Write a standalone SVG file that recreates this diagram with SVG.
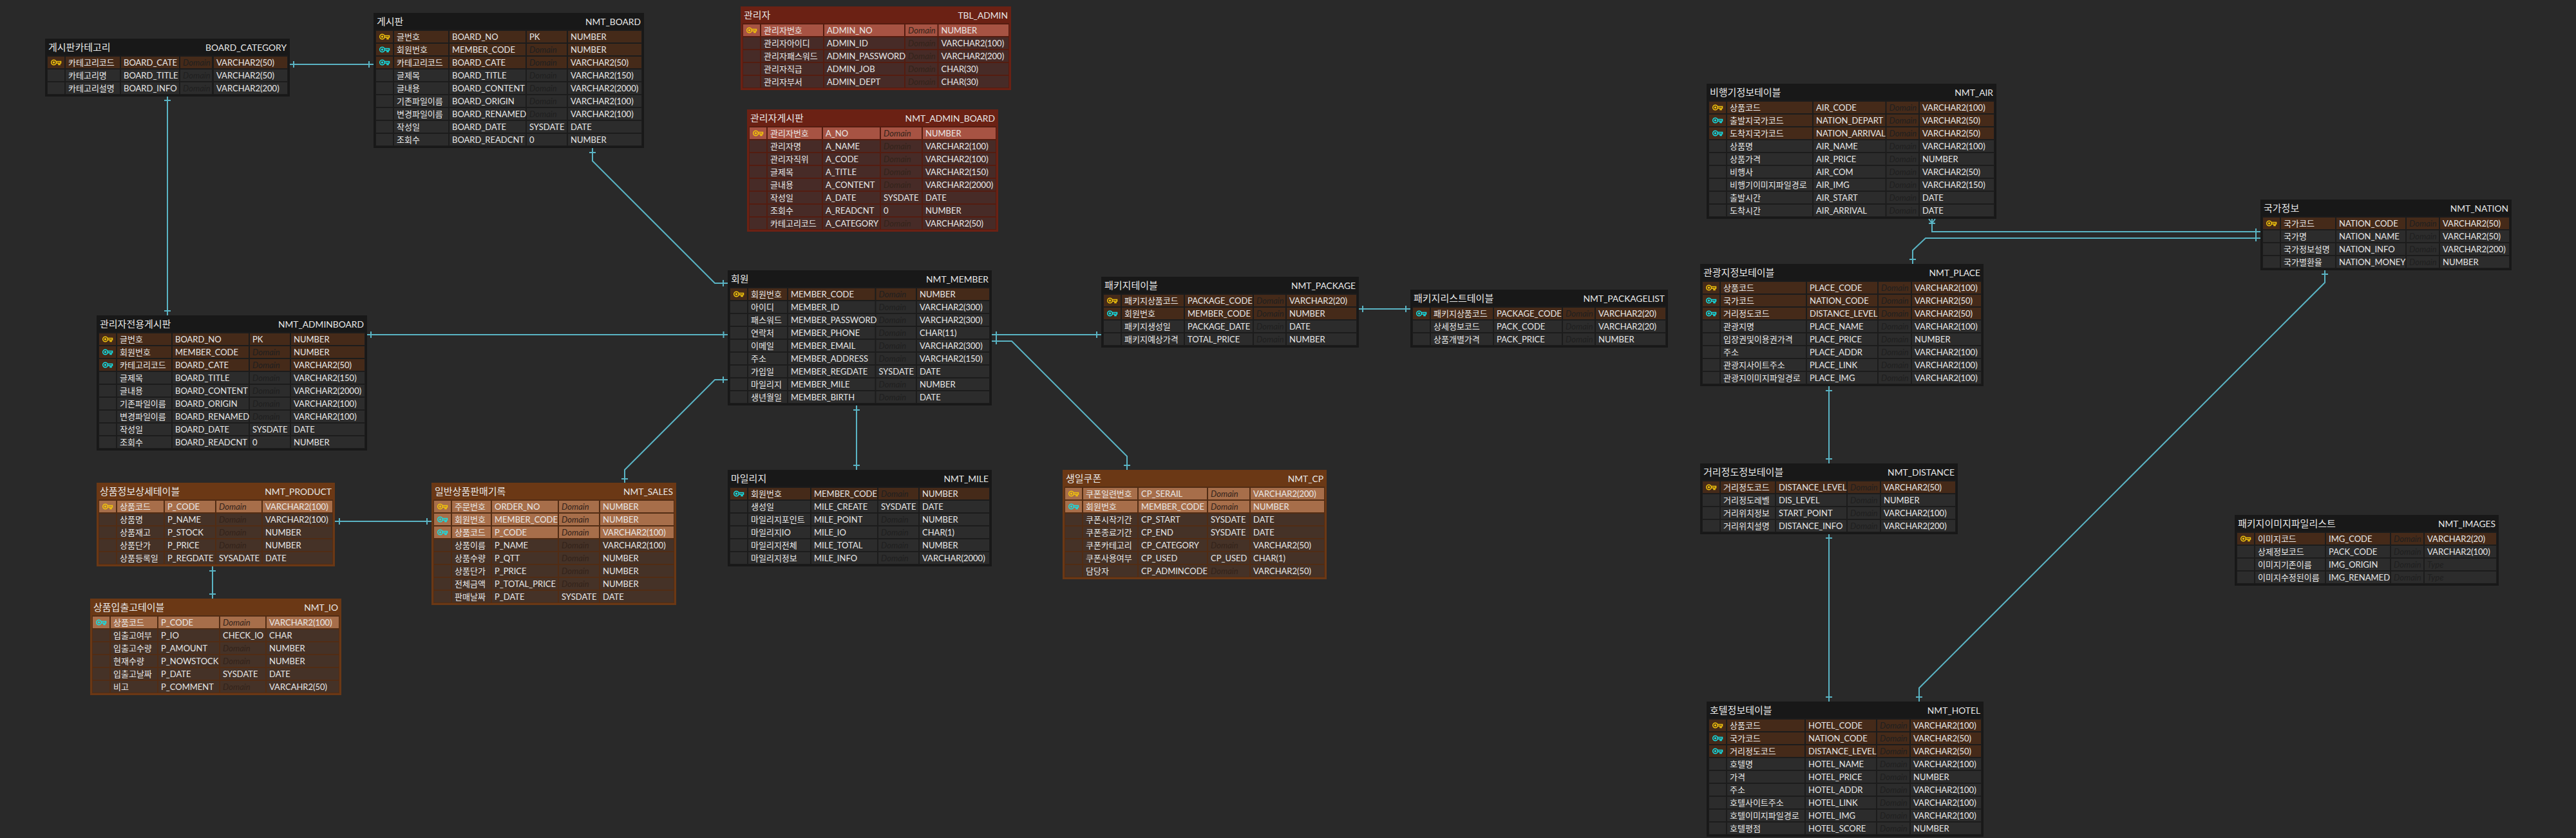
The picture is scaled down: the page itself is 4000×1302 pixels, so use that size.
<svg xmlns="http://www.w3.org/2000/svg" width="4000" height="1302" viewBox="0 0 4000 1302">
<style>
text{font-family:Lato,"Noto Sans CJK KR",sans-serif;font-size:13px;fill:#e8e8e8}
.h{font-size:15px}
.e{text-anchor:end;font-size:13.800px}
.d{font-style:italic;fill:#1f1f1f}
.blk .bg{fill:#181818}.blk .band{fill:#1c1c1c}.blk .pl{fill:#2c2c2c}.blk .ky{fill:#452a19}
.brn .bg{fill:#6b3815}.brn .band{fill:#512c14}.brn .pl{fill:#453227}.brn .ky{fill:#a76e4a}
.red .bg{fill:#6b2114}.red .band{fill:#541c10}.red .pl{fill:#472b27}.red .ky{fill:#a75343}
.red .d,.brn .d{fill:#33231a}
.gk{color:#f2c40c}.ck{color:#14e0e6}
.key{fill:none;stroke:currentColor;stroke-width:1.5}
.conn path{fill:none;stroke:#5ab4c4;stroke-width:2}
</style>
<defs>
<g id="key" class="key"><circle cx="4.5" cy="5" r="3.8"/><circle cx="4.5" cy="5" r="1"/><path d="M8.3 3.5H15.5V6H14V8.5H12V6H8.3"/></g>
<g id="c-cat"><rect x="4" width="26" height="18"/><rect x="32" width="84" height="18"/><rect x="118" width="90" height="18"/><rect x="210" width="49" height="18"/><rect x="262" width="114" height="18"/></g>
<g id="c-board"><rect x="4" width="26" height="18"/><rect x="32" width="84" height="18"/><rect x="118" width="118" height="18"/><rect x="238" width="62" height="18"/><rect x="302" width="114" height="18"/></g>
<g id="c-admin"><rect x="4" width="26" height="18"/><rect x="32" width="96" height="18"/><rect x="130" width="124" height="18"/><rect x="256" width="49.500" height="18"/><rect x="307.500" width="108.500" height="18"/></g>
<g id="c-aboard"><rect x="4" width="26" height="18"/><rect x="32" width="84" height="18"/><rect x="118" width="88" height="18"/><rect x="208" width="63" height="18"/><rect x="273" width="113" height="18"/></g>
<g id="c-member"><rect x="4" width="26" height="18"/><rect x="32" width="60" height="18"/><rect x="94" width="134.500" height="18"/><rect x="230.500" width="61.500" height="18"/><rect x="294" width="112" height="18"/></g>
<g id="c-pack"><rect x="4" width="26" height="18"/><rect x="32" width="96" height="18"/><rect x="130" width="105" height="18"/><rect x="237" width="49" height="18"/><rect x="288" width="108" height="18"/></g>
<g id="c-prod"><rect x="4" width="26" height="18"/><rect x="32" width="72" height="18"/><rect x="106" width="78" height="18"/><rect x="186" width="70" height="18"/><rect x="258" width="108" height="18"/></g>
<g id="c-sales"><rect x="4" width="26" height="18"/><rect x="32" width="60" height="18"/><rect x="94" width="102" height="18"/><rect x="198" width="62" height="18"/><rect x="262" width="114" height="18"/></g>
<g id="c-io"><rect x="4" width="26" height="18"/><rect x="32" width="72" height="18"/><rect x="106" width="94" height="18"/><rect x="202" width="70" height="18"/><rect x="274" width="112" height="18"/></g>
<g id="c-mile"><rect x="4" width="26" height="18"/><rect x="32" width="96" height="18"/><rect x="130" width="102" height="18"/><rect x="234" width="62" height="18"/><rect x="298" width="108" height="18"/></g>
<g id="c-cp"><rect x="4" width="26" height="18"/><rect x="32" width="84" height="18"/><rect x="118" width="106" height="18"/><rect x="226" width="64" height="18"/><rect x="292" width="114" height="18"/></g>
<g id="c-air"><rect x="4" width="26" height="18"/><rect x="32" width="132" height="18"/><rect x="166" width="111.500" height="18"/><rect x="279.500" width="49.500" height="18"/><rect x="331" width="115" height="18"/></g>
<g id="c-place"><rect x="4" width="26" height="18"/><rect x="32" width="132" height="18"/><rect x="166" width="109" height="18"/><rect x="277" width="50" height="18"/><rect x="329" width="107" height="18"/></g>
<g id="c-dist"><rect x="4" width="26" height="18"/><rect x="32" width="84" height="18"/><rect x="118" width="109" height="18"/><rect x="229" width="50" height="18"/><rect x="281" width="115" height="18"/></g>
<g id="c-hotel"><rect x="4" width="26" height="18"/><rect x="32" width="120" height="18"/><rect x="154" width="109" height="18"/><rect x="265" width="50" height="18"/><rect x="317" width="109" height="18"/></g>
<g id="c-nation"><rect x="4" width="26" height="18"/><rect x="32" width="84" height="18"/><rect x="118" width="107" height="18"/><rect x="227" width="50" height="18"/><rect x="279" width="107" height="18"/></g>
<g id="c-img"><rect x="4" width="26" height="18"/><rect x="32" width="108" height="18"/><rect x="142" width="99" height="18"/><rect x="243" width="50" height="18"/><rect x="295" width="111" height="18"/></g>
</defs>
<rect width="4000" height="1302" fill="#292929"/>

<g id="connectors" class="conn">
<path d="M450 100H580M456 95v10M573 95v10"/>
<path d="M260 150V490M255 156h10M255 483h10"/>
<path d="M920 230V250L1110 440H1130M915 237h10M1123 435v10"/>
<path d="M570 520H1130M576 515v10M1123.500 515v10"/>
<path d="M970 750V730L1110 590H1130M965 744h10M1123 585v10"/>
<path d="M1330 630V730M1325 637h10M1325 723h10"/>
<path d="M1540 520H1710M1547 515v10M1703 515v10"/>
<path d="M1540 530H1571L1750 709V730M1547 525v10M1745 723h10"/>
<path d="M2110 480H2190M2116 475v10M2183 475v10"/>
<path d="M520 810H670M527 805v10M663 805v10"/>
<path d="M330 880V930M325 887h10M325 923h10"/>
<path d="M2840 600V720M2835 607h10M2835 713h10"/>
<path d="M2840 830V1090M2835 836h10M2835 1083h10"/>
<path d="M3510 360H3000V340M3503 355v10M2995 347h10M3000 347L2995 340M3000 347L3005 340"/>
<path d="M3510 370H2990L2970 389V410M3503 365v10M2965 403h10"/>
<path d="M3610 420V439L2980 1069V1090M3605 426h10M2975 1083h10"/>
</g>

<g id="board_category" class="blk" transform="translate(70,60)">
<rect class="bg" width="380" height="90"/><rect class="band" x="3" y="26" width="374" height="61"/>
<text class="h" x="5" y="18.500">게시판카테고리</text><text class="h e" x="375" y="18.500">BOARD_CATEGORY</text>
<use href="#c-cat" y="28" class="ky"/><use href="#c-cat" y="48" class="pl"/><use href="#c-cat" y="68" class="pl"/>
<use href="#key" x="9" y="32" class="gk"/>
<text x="36" y="41.700">카테고리코드</text><text x="122" y="41.700">BOARD_CATE</text><text class="d" x="214" y="41.700">Domain</text><text x="266" y="41.700">VARCHAR2(50)</text>
<text x="36" y="61.700">카테고리명</text><text x="122" y="61.700">BOARD_TITLE</text><text class="d" x="214" y="61.700">Domain</text><text x="266" y="61.700">VARCHAR2(50)</text>
<text x="36" y="81.700">카테고리설명</text><text x="122" y="81.700">BOARD_INFO</text><text class="d" x="214" y="81.700">Domain</text><text x="266" y="81.700">VARCHAR2(200)</text>
</g>

<g id="nmt_board" class="blk" transform="translate(580,20)">
<rect class="bg" width="420" height="210"/><rect class="band" x="3" y="26" width="414" height="181"/>
<text class="h" x="5" y="18.500">게시판</text><text class="h e" x="415" y="18.500">NMT_BOARD</text>
<use href="#c-board" y="28" class="ky"/><use href="#c-board" y="48" class="ky"/><use href="#c-board" y="68" class="ky"/><use href="#c-board" y="88" class="pl"/><use href="#c-board" y="108" class="pl"/><use href="#c-board" y="128" class="pl"/><use href="#c-board" y="148" class="pl"/><use href="#c-board" y="168" class="pl"/><use href="#c-board" y="188" class="pl"/>
<use href="#key" x="9" y="32" class="gk"/><use href="#key" x="9" y="52" class="ck"/><use href="#key" x="9" y="72" class="ck"/>
<text x="36" y="41.700">글번호</text><text x="122" y="41.700">BOARD_NO</text><text x="242" y="41.700">PK</text><text x="306" y="41.700">NUMBER</text>
<text x="36" y="61.700">회원번호</text><text x="122" y="61.700">MEMBER_CODE</text><text class="d" x="242" y="61.700">Domain</text><text x="306" y="61.700">NUMBER</text>
<text x="36" y="81.700">카테고리코드</text><text x="122" y="81.700">BOARD_CATE</text><text class="d" x="242" y="81.700">Domain</text><text x="306" y="81.700">VARCHAR2(50)</text>
<text x="36" y="101.700">글제목</text><text x="122" y="101.700">BOARD_TITLE</text><text class="d" x="242" y="101.700">Domain</text><text x="306" y="101.700">VARCHAR2(150)</text>
<text x="36" y="121.700">글내용</text><text x="122" y="121.700">BOARD_CONTENT</text><text class="d" x="242" y="121.700">Domain</text><text x="306" y="121.700">VARCHAR2(2000)</text>
<text x="36" y="141.700">기존파일이름</text><text x="122" y="141.700">BOARD_ORIGIN</text><text class="d" x="242" y="141.700">Domain</text><text x="306" y="141.700">VARCHAR2(100)</text>
<text x="36" y="161.700">변경파일이름</text><text x="122" y="161.700">BOARD_RENAMED</text><text class="d" x="242" y="161.700">Domain</text><text x="306" y="161.700">VARCHAR2(100)</text>
<text x="36" y="181.700">작성일</text><text x="122" y="181.700">BOARD_DATE</text><text x="242" y="181.700">SYSDATE</text><text x="306" y="181.700">DATE</text>
<text x="36" y="201.700">조회수</text><text x="122" y="201.700">BOARD_READCNT</text><text x="242" y="201.700">0</text><text x="306" y="201.700">NUMBER</text>
</g>

<g id="tbl_admin" class="red" transform="translate(1150,10)">
<rect class="bg" width="420" height="130"/><rect class="band" x="3" y="26" width="414" height="101"/>
<text class="h" x="5" y="18.500">관리자</text><text class="h e" x="415" y="18.500">TBL_ADMIN</text>
<use href="#c-admin" y="28" class="ky"/><use href="#c-admin" y="48" class="pl"/><use href="#c-admin" y="68" class="pl"/><use href="#c-admin" y="88" class="pl"/><use href="#c-admin" y="108" class="pl"/>
<use href="#key" x="9" y="32" class="gk"/>
<text x="36" y="41.700">관리자번호</text><text x="134" y="41.700">ADMIN_NO</text><text class="d" x="260" y="41.700">Domain</text><text x="311.500" y="41.700">NUMBER</text>
<text x="36" y="61.700">관리자아이디</text><text x="134" y="61.700">ADMIN_ID</text><text class="d" x="260" y="61.700">Domain</text><text x="311.500" y="61.700">VARCHAR2(100)</text>
<text x="36" y="81.700">관리자패스워드</text><text x="134" y="81.700">ADMIN_PASSWORD</text><text class="d" x="260" y="81.700">Domain</text><text x="311.500" y="81.700">VARCHAR2(200)</text>
<text x="36" y="101.700">관리자직급</text><text x="134" y="101.700">ADMIN_JOB</text><text class="d" x="260" y="101.700">Domain</text><text x="311.500" y="101.700">CHAR(30)</text>
<text x="36" y="121.700">관리자부서</text><text x="134" y="121.700">ADMIN_DEPT</text><text class="d" x="260" y="121.700">Domain</text><text x="311.500" y="121.700">CHAR(30)</text>
</g>

<g id="nmt_admin_board" class="red" transform="translate(1160,170)">
<rect class="bg" width="390" height="190"/><rect class="band" x="3" y="26" width="384" height="161"/>
<text class="h" x="5" y="18.500">관리자게시판</text><text class="h e" x="385" y="18.500">NMT_ADMIN_BOARD</text>
<use href="#c-aboard" y="28" class="ky"/><use href="#c-aboard" y="48" class="pl"/><use href="#c-aboard" y="68" class="pl"/><use href="#c-aboard" y="88" class="pl"/><use href="#c-aboard" y="108" class="pl"/><use href="#c-aboard" y="128" class="pl"/><use href="#c-aboard" y="148" class="pl"/><use href="#c-aboard" y="168" class="pl"/>
<use href="#key" x="9" y="32" class="gk"/>
<text x="36" y="41.700">관리자번호</text><text x="122" y="41.700">A_NO</text><text class="d" x="212" y="41.700">Domain</text><text x="277" y="41.700">NUMBER</text>
<text x="36" y="61.700">관리자명</text><text x="122" y="61.700">A_NAME</text><text class="d" x="212" y="61.700">Domain</text><text x="277" y="61.700">VARCHAR2(100)</text>
<text x="36" y="81.700">관리자직위</text><text x="122" y="81.700">A_CODE</text><text class="d" x="212" y="81.700">Domain</text><text x="277" y="81.700">VARCHAR2(100)</text>
<text x="36" y="101.700">글제목</text><text x="122" y="101.700">A_TITLE</text><text class="d" x="212" y="101.700">Domain</text><text x="277" y="101.700">VARCHAR2(150)</text>
<text x="36" y="121.700">글내용</text><text x="122" y="121.700">A_CONTENT</text><text class="d" x="212" y="121.700">Domain</text><text x="277" y="121.700">VARCHAR2(2000)</text>
<text x="36" y="141.700">작성일</text><text x="122" y="141.700">A_DATE</text><text x="212" y="141.700">SYSDATE</text><text x="277" y="141.700">DATE</text>
<text x="36" y="161.700">조회수</text><text x="122" y="161.700">A_READCNT</text><text x="212" y="161.700">0</text><text x="277" y="161.700">NUMBER</text>
<text x="36" y="181.700">카테고리코드</text><text x="122" y="181.700">A_CATEGORY</text><text class="d" x="212" y="181.700">Domain</text><text x="277" y="181.700">VARCHAR2(50)</text>
</g>

<g id="nmt_adminboard" class="blk" transform="translate(150,490)">
<rect class="bg" width="420" height="210"/><rect class="band" x="3" y="26" width="414" height="181"/>
<text class="h" x="5" y="18.500">관리자전용게시판</text><text class="h e" x="415" y="18.500">NMT_ADMINBOARD</text>
<use href="#c-board" y="28" class="ky"/><use href="#c-board" y="48" class="ky"/><use href="#c-board" y="68" class="ky"/><use href="#c-board" y="88" class="pl"/><use href="#c-board" y="108" class="pl"/><use href="#c-board" y="128" class="pl"/><use href="#c-board" y="148" class="pl"/><use href="#c-board" y="168" class="pl"/><use href="#c-board" y="188" class="pl"/>
<use href="#key" x="9" y="32" class="gk"/><use href="#key" x="9" y="52" class="ck"/><use href="#key" x="9" y="72" class="ck"/>
<text x="36" y="41.700">글번호</text><text x="122" y="41.700">BOARD_NO</text><text x="242" y="41.700">PK</text><text x="306" y="41.700">NUMBER</text>
<text x="36" y="61.700">회원번호</text><text x="122" y="61.700">MEMBER_CODE</text><text class="d" x="242" y="61.700">Domain</text><text x="306" y="61.700">NUMBER</text>
<text x="36" y="81.700">카테고리코드</text><text x="122" y="81.700">BOARD_CATE</text><text class="d" x="242" y="81.700">Domain</text><text x="306" y="81.700">VARCHAR2(50)</text>
<text x="36" y="101.700">글제목</text><text x="122" y="101.700">BOARD_TITLE</text><text class="d" x="242" y="101.700">Domain</text><text x="306" y="101.700">VARCHAR2(150)</text>
<text x="36" y="121.700">글내용</text><text x="122" y="121.700">BOARD_CONTENT</text><text class="d" x="242" y="121.700">Domain</text><text x="306" y="121.700">VARCHAR2(2000)</text>
<text x="36" y="141.700">기존파일이름</text><text x="122" y="141.700">BOARD_ORIGIN</text><text class="d" x="242" y="141.700">Domain</text><text x="306" y="141.700">VARCHAR2(100)</text>
<text x="36" y="161.700">변경파일이름</text><text x="122" y="161.700">BOARD_RENAMED</text><text class="d" x="242" y="161.700">Domain</text><text x="306" y="161.700">VARCHAR2(100)</text>
<text x="36" y="181.700">작성일</text><text x="122" y="181.700">BOARD_DATE</text><text x="242" y="181.700">SYSDATE</text><text x="306" y="181.700">DATE</text>
<text x="36" y="201.700">조회수</text><text x="122" y="201.700">BOARD_READCNT</text><text x="242" y="201.700">0</text><text x="306" y="201.700">NUMBER</text>
</g>

<g id="nmt_member" class="blk" transform="translate(1130,420)">
<rect class="bg" width="410" height="210"/><rect class="band" x="3" y="26" width="404" height="181"/>
<text class="h" x="5" y="18.500">회원</text><text class="h e" x="405" y="18.500">NMT_MEMBER</text>
<use href="#c-member" y="28" class="ky"/><use href="#c-member" y="48" class="pl"/><use href="#c-member" y="68" class="pl"/><use href="#c-member" y="88" class="pl"/><use href="#c-member" y="108" class="pl"/><use href="#c-member" y="128" class="pl"/><use href="#c-member" y="148" class="pl"/><use href="#c-member" y="168" class="pl"/><use href="#c-member" y="188" class="pl"/>
<use href="#key" x="9" y="32" class="gk"/>
<text x="36" y="41.700">회원번호</text><text x="98" y="41.700">MEMBER_CODE</text><text class="d" x="234.500" y="41.700">Domain</text><text x="298" y="41.700">NUMBER</text>
<text x="36" y="61.700">아이디</text><text x="98" y="61.700">MEMBER_ID</text><text class="d" x="234.500" y="61.700">Domain</text><text x="298" y="61.700">VARCHAR2(300)</text>
<text x="36" y="81.700">패스워드</text><text x="98" y="81.700">MEMBER_PASSWORD</text><text class="d" x="234.500" y="81.700">Domain</text><text x="298" y="81.700">VARCHAR2(300)</text>
<text x="36" y="101.700">연락처</text><text x="98" y="101.700">MEMBER_PHONE</text><text class="d" x="234.500" y="101.700">Domain</text><text x="298" y="101.700">CHAR(11)</text>
<text x="36" y="121.700">이메일</text><text x="98" y="121.700">MEMBER_EMAIL</text><text class="d" x="234.500" y="121.700">Domain</text><text x="298" y="121.700">VARCHAR2(300)</text>
<text x="36" y="141.700">주소</text><text x="98" y="141.700">MEMBER_ADDRESS</text><text class="d" x="234.500" y="141.700">Domain</text><text x="298" y="141.700">VARCHAR2(150)</text>
<text x="36" y="161.700">가입일</text><text x="98" y="161.700">MEMBER_REGDATE</text><text x="234.500" y="161.700">SYSDATE</text><text x="298" y="161.700">DATE</text>
<text x="36" y="181.700">마일리지</text><text x="98" y="181.700">MEMBER_MILE</text><text class="d" x="234.500" y="181.700">Domain</text><text x="298" y="181.700">NUMBER</text>
<text x="36" y="201.700">생년월일</text><text x="98" y="201.700">MEMBER_BIRTH</text><text class="d" x="234.500" y="201.700">Domain</text><text x="298" y="201.700">DATE</text>
</g>

<g id="nmt_package" class="blk" transform="translate(1710,430)">
<rect class="bg" width="400" height="110"/><rect class="band" x="3" y="26" width="394" height="81"/>
<text class="h" x="5" y="18.500">패키지테이블</text><text class="h e" x="395" y="18.500">NMT_PACKAGE</text>
<use href="#c-pack" y="28" class="ky"/><use href="#c-pack" y="48" class="ky"/><use href="#c-pack" y="68" class="pl"/><use href="#c-pack" y="88" class="pl"/>
<use href="#key" x="9" y="32" class="gk"/><use href="#key" x="9" y="52" class="ck"/>
<text x="36" y="41.700">패키지상품코드</text><text x="134" y="41.700">PACKAGE_CODE</text><text class="d" x="241" y="41.700">Domain</text><text x="292" y="41.700">VARCHAR2(20)</text>
<text x="36" y="61.700">회원번호</text><text x="134" y="61.700">MEMBER_CODE</text><text class="d" x="241" y="61.700">Domain</text><text x="292" y="61.700">NUMBER</text>
<text x="36" y="81.700">패키지생성일</text><text x="134" y="81.700">PACKAGE_DATE</text><text class="d" x="241" y="81.700">Domain</text><text x="292" y="81.700">DATE</text>
<text x="36" y="101.700">패키지예상가격</text><text x="134" y="101.700">TOTAL_PRICE</text><text class="d" x="241" y="101.700">Domain</text><text x="292" y="101.700">NUMBER</text>
</g>

<g id="nmt_packagelist" class="blk" transform="translate(2190,450)">
<rect class="bg" width="400" height="90"/><rect class="band" x="3" y="26" width="394" height="61"/>
<text class="h" x="5" y="18.500">패키지리스트테이블</text><text class="h e" x="395" y="18.500">NMT_PACKAGELIST</text>
<use href="#c-pack" y="28" class="ky"/><use href="#c-pack" y="48" class="pl"/><use href="#c-pack" y="68" class="pl"/>
<use href="#key" x="9" y="32" class="ck"/>
<text x="36" y="41.700">패키지상품코드</text><text x="134" y="41.700">PACKAGE_CODE</text><text class="d" x="241" y="41.700">Domain</text><text x="292" y="41.700">VARCHAR2(20)</text>
<text x="36" y="61.700">상세정보코드</text><text x="134" y="61.700">PACK_CODE</text><text class="d" x="241" y="61.700">Domain</text><text x="292" y="61.700">VARCHAR2(20)</text>
<text x="36" y="81.700">상품개별가격</text><text x="134" y="81.700">PACK_PRICE</text><text class="d" x="241" y="81.700">Domain</text><text x="292" y="81.700">NUMBER</text>
</g>

<g id="nmt_product" class="brn" transform="translate(150,750)">
<rect class="bg" width="370" height="130"/><rect class="band" x="3" y="26" width="364" height="101"/>
<text class="h" x="5" y="18.500">상품정보상세테이블</text><text class="h e" x="365" y="18.500">NMT_PRODUCT</text>
<use href="#c-prod" y="28" class="ky"/><use href="#c-prod" y="48" class="pl"/><use href="#c-prod" y="68" class="pl"/><use href="#c-prod" y="88" class="pl"/><use href="#c-prod" y="108" class="pl"/>
<use href="#key" x="9" y="32" class="gk"/>
<text x="36" y="41.700">상품코드</text><text x="110" y="41.700">P_CODE</text><text class="d" x="190" y="41.700">Domain</text><text x="262" y="41.700">VARCHAR2(100)</text>
<text x="36" y="61.700">상품명</text><text x="110" y="61.700">P_NAME</text><text class="d" x="190" y="61.700">Domain</text><text x="262" y="61.700">VARCHAR2(100)</text>
<text x="36" y="81.700">상품재고</text><text x="110" y="81.700">P_STOCK</text><text class="d" x="190" y="81.700">Domain</text><text x="262" y="81.700">NUMBER</text>
<text x="36" y="101.700">상품단가</text><text x="110" y="101.700">P_PRICE</text><text class="d" x="190" y="101.700">Domain</text><text x="262" y="101.700">NUMBER</text>
<text x="36" y="121.700">상품등록일</text><text x="110" y="121.700">P_REGDATE</text><text x="190" y="121.700">SYSADATE</text><text x="262" y="121.700">DATE</text>
</g>

<g id="nmt_sales" class="brn" transform="translate(670,750)">
<rect class="bg" width="380" height="190"/><rect class="band" x="3" y="26" width="374" height="161"/>
<text class="h" x="5" y="18.500">일반상품판매기록</text><text class="h e" x="375" y="18.500">NMT_SALES</text>
<use href="#c-sales" y="28" class="ky"/><use href="#c-sales" y="48" class="ky"/><use href="#c-sales" y="68" class="ky"/><use href="#c-sales" y="88" class="pl"/><use href="#c-sales" y="108" class="pl"/><use href="#c-sales" y="128" class="pl"/><use href="#c-sales" y="148" class="pl"/><use href="#c-sales" y="168" class="pl"/>
<use href="#key" x="9" y="32" class="gk"/><use href="#key" x="9" y="52" class="ck"/><use href="#key" x="9" y="72" class="ck"/>
<text x="36" y="41.700">주문번호</text><text x="98" y="41.700">ORDER_NO</text><text class="d" x="202" y="41.700">Domain</text><text x="266" y="41.700">NUMBER</text>
<text x="36" y="61.700">회원번호</text><text x="98" y="61.700">MEMBER_CODE</text><text class="d" x="202" y="61.700">Domain</text><text x="266" y="61.700">NUMBER</text>
<text x="36" y="81.700">상품코드</text><text x="98" y="81.700">P_CODE</text><text class="d" x="202" y="81.700">Domain</text><text x="266" y="81.700">VARCHAR2(100)</text>
<text x="36" y="101.700">상품이름</text><text x="98" y="101.700">P_NAME</text><text class="d" x="202" y="101.700">Domain</text><text x="266" y="101.700">VARCHAR2(100)</text>
<text x="36" y="121.700">상품수량</text><text x="98" y="121.700">P_QTT</text><text class="d" x="202" y="121.700">Domain</text><text x="266" y="121.700">NUMBER</text>
<text x="36" y="141.700">상품단가</text><text x="98" y="141.700">P_PRICE</text><text class="d" x="202" y="141.700">Domain</text><text x="266" y="141.700">NUMBER</text>
<text x="36" y="161.700">전체금액</text><text x="98" y="161.700">P_TOTAL_PRICE</text><text class="d" x="202" y="161.700">Domain</text><text x="266" y="161.700">NUMBER</text>
<text x="36" y="181.700">판매날짜</text><text x="98" y="181.700">P_DATE</text><text x="202" y="181.700">SYSDATE</text><text x="266" y="181.700">DATE</text>
</g>

<g id="nmt_io" class="brn" transform="translate(140,930)">
<rect class="bg" width="390" height="150"/><rect class="band" x="3" y="26" width="384" height="121"/>
<text class="h" x="5" y="18.500">상품입출고테이블</text><text class="h e" x="385" y="18.500">NMT_IO</text>
<use href="#c-io" y="28" class="ky"/><use href="#c-io" y="48" class="pl"/><use href="#c-io" y="68" class="pl"/><use href="#c-io" y="88" class="pl"/><use href="#c-io" y="108" class="pl"/><use href="#c-io" y="128" class="pl"/>
<use href="#key" x="9" y="32" class="ck"/>
<text x="36" y="41.700">상품코드</text><text x="110" y="41.700">P_CODE</text><text class="d" x="206" y="41.700">Domain</text><text x="278" y="41.700">VARCHAR2(100)</text>
<text x="36" y="61.700">입출고여부</text><text x="110" y="61.700">P_IO</text><text x="206" y="61.700">CHECK_IO</text><text x="278" y="61.700">CHAR</text>
<text x="36" y="81.700">입출고수량</text><text x="110" y="81.700">P_AMOUNT</text><text class="d" x="206" y="81.700">Domain</text><text x="278" y="81.700">NUMBER</text>
<text x="36" y="101.700">현재수량</text><text x="110" y="101.700">P_NOWSTOCK</text><text class="d" x="206" y="101.700">Domain</text><text x="278" y="101.700">NUMBER</text>
<text x="36" y="121.700">입출고날짜</text><text x="110" y="121.700">P_DATE</text><text x="206" y="121.700">SYSDATE</text><text x="278" y="121.700">DATE</text>
<text x="36" y="141.700">비고</text><text x="110" y="141.700">P_COMMENT</text><text class="d" x="206" y="141.700">Domain</text><text x="278" y="141.700">VARCAHR2(50)</text>
</g>

<g id="nmt_mile" class="blk" transform="translate(1130,730)">
<rect class="bg" width="410" height="150"/><rect class="band" x="3" y="26" width="404" height="121"/>
<text class="h" x="5" y="18.500">마일리지</text><text class="h e" x="405" y="18.500">NMT_MILE</text>
<use href="#c-mile" y="28" class="ky"/><use href="#c-mile" y="48" class="pl"/><use href="#c-mile" y="68" class="pl"/><use href="#c-mile" y="88" class="pl"/><use href="#c-mile" y="108" class="pl"/><use href="#c-mile" y="128" class="pl"/>
<use href="#key" x="9" y="32" class="ck"/>
<text x="36" y="41.700">회원번호</text><text x="134" y="41.700">MEMBER_CODE</text><text class="d" x="238" y="41.700">Domain</text><text x="302" y="41.700">NUMBER</text>
<text x="36" y="61.700">생성일</text><text x="134" y="61.700">MILE_CREATE</text><text x="238" y="61.700">SYSDATE</text><text x="302" y="61.700">DATE</text>
<text x="36" y="81.700">마일리지포인트</text><text x="134" y="81.700">MILE_POINT</text><text class="d" x="238" y="81.700">Domain</text><text x="302" y="81.700">NUMBER</text>
<text x="36" y="101.700">마일리지IO</text><text x="134" y="101.700">MILE_IO</text><text class="d" x="238" y="101.700">Domain</text><text x="302" y="101.700">CHAR(1)</text>
<text x="36" y="121.700">마일리지전체</text><text x="134" y="121.700">MILE_TOTAL</text><text class="d" x="238" y="121.700">Domain</text><text x="302" y="121.700">NUMBER</text>
<text x="36" y="141.700">마일리지정보</text><text x="134" y="141.700">MILE_INFO</text><text class="d" x="238" y="141.700">Domain</text><text x="302" y="141.700">VARCHAR(2000)</text>
</g>

<g id="nmt_cp" class="brn" transform="translate(1650,730)">
<rect class="bg" width="410" height="170"/><rect class="band" x="3" y="26" width="404" height="141"/>
<text class="h" x="5" y="18.500">생일쿠폰</text><text class="h e" x="405" y="18.500">NMT_CP</text>
<use href="#c-cp" y="28" class="ky"/><use href="#c-cp" y="48" class="ky"/><use href="#c-cp" y="68" class="pl"/><use href="#c-cp" y="88" class="pl"/><use href="#c-cp" y="108" class="pl"/><use href="#c-cp" y="128" class="pl"/><use href="#c-cp" y="148" class="pl"/>
<use href="#key" x="9" y="32" class="gk"/><use href="#key" x="9" y="52" class="ck"/>
<text x="36" y="41.700">쿠폰일련번호</text><text x="122" y="41.700">CP_SERAIL</text><text class="d" x="230" y="41.700">Domain</text><text x="296" y="41.700">VARCHAR2(200)</text>
<text x="36" y="61.700">회원번호</text><text x="122" y="61.700">MEMBER_CODE</text><text class="d" x="230" y="61.700">Domain</text><text x="296" y="61.700">NUMBER</text>
<text x="36" y="81.700">쿠폰시작기간</text><text x="122" y="81.700">CP_START</text><text x="230" y="81.700">SYSDATE</text><text x="296" y="81.700">DATE</text>
<text x="36" y="101.700">쿠폰종료기간</text><text x="122" y="101.700">CP_END</text><text x="230" y="101.700">SYSDATE</text><text x="296" y="101.700">DATE</text>
<text x="36" y="121.700">쿠폰카테고리</text><text x="122" y="121.700">CP_CATEGORY</text><text class="d" x="230" y="121.700">Domain</text><text x="296" y="121.700">VARCHAR2(50)</text>
<text x="36" y="141.700">쿠폰사용여부</text><text x="122" y="141.700">CP_USED</text><text x="230" y="141.700">CP_USED</text><text x="296" y="141.700">CHAR(1)</text>
<text x="36" y="161.700">담당자</text><text x="122" y="161.700">CP_ADMINCODE</text><text class="d" x="230" y="161.700">Domain</text><text x="296" y="161.700">VARCHAR2(50)</text>
</g>

<g id="nmt_air" class="blk" transform="translate(2650,130)">
<rect class="bg" width="450" height="210"/><rect class="band" x="3" y="26" width="444" height="181"/>
<text class="h" x="5" y="18.500">비행기정보테이블</text><text class="h e" x="445" y="18.500">NMT_AIR</text>
<use href="#c-air" y="28" class="ky"/><use href="#c-air" y="48" class="ky"/><use href="#c-air" y="68" class="ky"/><use href="#c-air" y="88" class="pl"/><use href="#c-air" y="108" class="pl"/><use href="#c-air" y="128" class="pl"/><use href="#c-air" y="148" class="pl"/><use href="#c-air" y="168" class="pl"/><use href="#c-air" y="188" class="pl"/>
<use href="#key" x="9" y="32" class="gk"/><use href="#key" x="9" y="52" class="ck"/><use href="#key" x="9" y="72" class="ck"/>
<text x="36" y="41.700">상품코드</text><text x="170" y="41.700">AIR_CODE</text><text class="d" x="283.500" y="41.700">Domain</text><text x="335" y="41.700">VARCHAR2(100)</text>
<text x="36" y="61.700">출발지국가코드</text><text x="170" y="61.700">NATION_DEPART</text><text class="d" x="283.500" y="61.700">Domain</text><text x="335" y="61.700">VARCHAR2(50)</text>
<text x="36" y="81.700">도착지국가코드</text><text x="170" y="81.700">NATION_ARRIVAL</text><text class="d" x="283.500" y="81.700">Domain</text><text x="335" y="81.700">VARCHAR2(50)</text>
<text x="36" y="101.700">상품명</text><text x="170" y="101.700">AIR_NAME</text><text class="d" x="283.500" y="101.700">Domain</text><text x="335" y="101.700">VARCHAR2(100)</text>
<text x="36" y="121.700">상품가격</text><text x="170" y="121.700">AIR_PRICE</text><text class="d" x="283.500" y="121.700">Domain</text><text x="335" y="121.700">NUMBER</text>
<text x="36" y="141.700">비행사</text><text x="170" y="141.700">AIR_COM</text><text class="d" x="283.500" y="141.700">Domain</text><text x="335" y="141.700">VARCHAR2(50)</text>
<text x="36" y="161.700">비행기이미지파일경로</text><text x="170" y="161.700">AIR_IMG</text><text class="d" x="283.500" y="161.700">Domain</text><text x="335" y="161.700">VARCHAR2(150)</text>
<text x="36" y="181.700">출발시간</text><text x="170" y="181.700">AIR_START</text><text class="d" x="283.500" y="181.700">Domain</text><text x="335" y="181.700">DATE</text>
<text x="36" y="201.700">도착시간</text><text x="170" y="201.700">AIR_ARRIVAL</text><text class="d" x="283.500" y="201.700">Domain</text><text x="335" y="201.700">DATE</text>
</g>

<g id="nmt_place" class="blk" transform="translate(2640,410)">
<rect class="bg" width="440" height="190"/><rect class="band" x="3" y="26" width="434" height="161"/>
<text class="h" x="5" y="18.500">관광지정보테이블</text><text class="h e" x="435" y="18.500">NMT_PLACE</text>
<use href="#c-place" y="28" class="ky"/><use href="#c-place" y="48" class="ky"/><use href="#c-place" y="68" class="ky"/><use href="#c-place" y="88" class="pl"/><use href="#c-place" y="108" class="pl"/><use href="#c-place" y="128" class="pl"/><use href="#c-place" y="148" class="pl"/><use href="#c-place" y="168" class="pl"/>
<use href="#key" x="9" y="32" class="gk"/><use href="#key" x="9" y="52" class="ck"/><use href="#key" x="9" y="72" class="ck"/>
<text x="36" y="41.700">상품코드</text><text x="170" y="41.700">PLACE_CODE</text><text class="d" x="281" y="41.700">Domain</text><text x="333" y="41.700">VARCHAR2(100)</text>
<text x="36" y="61.700">국가코드</text><text x="170" y="61.700">NATION_CODE</text><text class="d" x="281" y="61.700">Domain</text><text x="333" y="61.700">VARCHAR2(50)</text>
<text x="36" y="81.700">거리정도코드</text><text x="170" y="81.700">DISTANCE_LEVEL</text><text class="d" x="281" y="81.700">Domain</text><text x="333" y="81.700">VARCHAR2(50)</text>
<text x="36" y="101.700">관광지명</text><text x="170" y="101.700">PLACE_NAME</text><text class="d" x="281" y="101.700">Domain</text><text x="333" y="101.700">VARCHAR2(100)</text>
<text x="36" y="121.700">입장권및이용권가격</text><text x="170" y="121.700">PLACE_PRICE</text><text class="d" x="281" y="121.700">Domain</text><text x="333" y="121.700">NUMBER</text>
<text x="36" y="141.700">주소</text><text x="170" y="141.700">PLACE_ADDR</text><text class="d" x="281" y="141.700">Domain</text><text x="333" y="141.700">VARCHAR2(100)</text>
<text x="36" y="161.700">관광지사이트주소</text><text x="170" y="161.700">PLACE_LINK</text><text class="d" x="281" y="161.700">Domain</text><text x="333" y="161.700">VARCHAR2(100)</text>
<text x="36" y="181.700">관광지이미지파일경로</text><text x="170" y="181.700">PLACE_IMG</text><text class="d" x="281" y="181.700">Domain</text><text x="333" y="181.700">VARCHAR2(100)</text>
</g>

<g id="nmt_distance" class="blk" transform="translate(2640,720)">
<rect class="bg" width="400" height="110"/><rect class="band" x="3" y="26" width="394" height="81"/>
<text class="h" x="5" y="18.500">거리정도정보테이블</text><text class="h e" x="395" y="18.500">NMT_DISTANCE</text>
<use href="#c-dist" y="28" class="ky"/><use href="#c-dist" y="48" class="pl"/><use href="#c-dist" y="68" class="pl"/><use href="#c-dist" y="88" class="pl"/>
<use href="#key" x="9" y="32" class="gk"/>
<text x="36" y="41.700">거리정도코드</text><text x="122" y="41.700">DISTANCE_LEVEL</text><text class="d" x="233" y="41.700">Domain</text><text x="285" y="41.700">VARCHAR2(50)</text>
<text x="36" y="61.700">거리정도레벨</text><text x="122" y="61.700">DIS_LEVEL</text><text class="d" x="233" y="61.700">Domain</text><text x="285" y="61.700">NUMBER</text>
<text x="36" y="81.700">거리위치정보</text><text x="122" y="81.700">START_POINT</text><text class="d" x="233" y="81.700">Domain</text><text x="285" y="81.700">VARCHAR2(100)</text>
<text x="36" y="101.700">거리위치설명</text><text x="122" y="101.700">DISTANCE_INFO</text><text class="d" x="233" y="101.700">Domain</text><text x="285" y="101.700">VARCHAR2(200)</text>
</g>

<g id="nmt_hotel" class="blk" transform="translate(2650,1090)">
<rect class="bg" width="430" height="210"/><rect class="band" x="3" y="26" width="424" height="181"/>
<text class="h" x="5" y="18.500">호텔정보테이블</text><text class="h e" x="425" y="18.500">NMT_HOTEL</text>
<use href="#c-hotel" y="28" class="ky"/><use href="#c-hotel" y="48" class="ky"/><use href="#c-hotel" y="68" class="ky"/><use href="#c-hotel" y="88" class="pl"/><use href="#c-hotel" y="108" class="pl"/><use href="#c-hotel" y="128" class="pl"/><use href="#c-hotel" y="148" class="pl"/><use href="#c-hotel" y="168" class="pl"/><use href="#c-hotel" y="188" class="pl"/>
<use href="#key" x="9" y="32" class="gk"/><use href="#key" x="9" y="52" class="ck"/><use href="#key" x="9" y="72" class="ck"/>
<text x="36" y="41.700">상품코드</text><text x="158" y="41.700">HOTEL_CODE</text><text class="d" x="269" y="41.700">Domain</text><text x="321" y="41.700">VARCHAR2(100)</text>
<text x="36" y="61.700">국가코드</text><text x="158" y="61.700">NATION_CODE</text><text class="d" x="269" y="61.700">Domain</text><text x="321" y="61.700">VARCHAR2(50)</text>
<text x="36" y="81.700">거리정도코드</text><text x="158" y="81.700">DISTANCE_LEVEL</text><text class="d" x="269" y="81.700">Domain</text><text x="321" y="81.700">VARCHAR2(50)</text>
<text x="36" y="101.700">호텔명</text><text x="158" y="101.700">HOTEL_NAME</text><text class="d" x="269" y="101.700">Domain</text><text x="321" y="101.700">VARCHAR2(100)</text>
<text x="36" y="121.700">가격</text><text x="158" y="121.700">HOTEL_PRICE</text><text class="d" x="269" y="121.700">Domain</text><text x="321" y="121.700">NUMBER</text>
<text x="36" y="141.700">주소</text><text x="158" y="141.700">HOTEL_ADDR</text><text class="d" x="269" y="141.700">Domain</text><text x="321" y="141.700">VARCHAR2(100)</text>
<text x="36" y="161.700">호텔사이트주소</text><text x="158" y="161.700">HOTEL_LINK</text><text class="d" x="269" y="161.700">Domain</text><text x="321" y="161.700">VARCHAR2(100)</text>
<text x="36" y="181.700">호텔이미지파일경로</text><text x="158" y="181.700">HOTEL_IMG</text><text class="d" x="269" y="181.700">Domain</text><text x="321" y="181.700">VARCHAR2(100)</text>
<text x="36" y="201.700">호텔평점</text><text x="158" y="201.700">HOTEL_SCORE</text><text class="d" x="269" y="201.700">Domain</text><text x="321" y="201.700">NUMBER</text>
</g>

<g id="nmt_nation" class="blk" transform="translate(3510,310)">
<rect class="bg" width="390" height="110"/><rect class="band" x="3" y="26" width="384" height="81"/>
<text class="h" x="5" y="18.500">국가정보</text><text class="h e" x="385" y="18.500">NMT_NATION</text>
<use href="#c-nation" y="28" class="ky"/><use href="#c-nation" y="48" class="pl"/><use href="#c-nation" y="68" class="pl"/><use href="#c-nation" y="88" class="pl"/>
<use href="#key" x="9" y="32" class="gk"/>
<text x="36" y="41.700">국가코드</text><text x="122" y="41.700">NATION_CODE</text><text class="d" x="231" y="41.700">Domain</text><text x="283" y="41.700">VARCHAR2(50)</text>
<text x="36" y="61.700">국가명</text><text x="122" y="61.700">NATION_NAME</text><text class="d" x="231" y="61.700">Domain</text><text x="283" y="61.700">VARCHAR2(50)</text>
<text x="36" y="81.700">국가정보설명</text><text x="122" y="81.700">NATION_INFO</text><text class="d" x="231" y="81.700">Domain</text><text x="283" y="81.700">VARCHAR2(200)</text>
<text x="36" y="101.700">국가별환율</text><text x="122" y="101.700">NATION_MONEY</text><text class="d" x="231" y="101.700">Domain</text><text x="283" y="101.700">NUMBER</text>
</g>

<g id="nmt_images" class="blk" transform="translate(3470,800)">
<rect class="bg" width="410" height="110"/><rect class="band" x="3" y="26" width="404" height="81"/>
<text class="h" x="5" y="18.500">패키지이미지파일리스트</text><text class="h e" x="405" y="18.500">NMT_IMAGES</text>
<use href="#c-img" y="28" class="ky"/><use href="#c-img" y="48" class="pl"/><use href="#c-img" y="68" class="pl"/><use href="#c-img" y="88" class="pl"/>
<use href="#key" x="9" y="32" class="gk"/>
<text x="36" y="41.700">이미지코드</text><text x="146" y="41.700">IMG_CODE</text><text class="d" x="247" y="41.700">Domain</text><text x="299" y="41.700">VARCHAR2(20)</text>
<text x="36" y="61.700">상제정보코드</text><text x="146" y="61.700">PACK_CODE</text><text class="d" x="247" y="61.700">Domain</text><text x="299" y="61.700">VARCHAR2(100)</text>
<text x="36" y="81.700">이미지기존이름</text><text x="146" y="81.700">IMG_ORIGIN</text><text class="d" x="247" y="81.700">Domain</text><text class="d" x="299" y="81.700">Type</text>
<text x="36" y="101.700">이미지수정된이름</text><text x="146" y="101.700">IMG_RENAMED</text><text class="d" x="247" y="101.700">Domain</text><text class="d" x="299" y="101.700">Type</text>
</g>
</svg>
